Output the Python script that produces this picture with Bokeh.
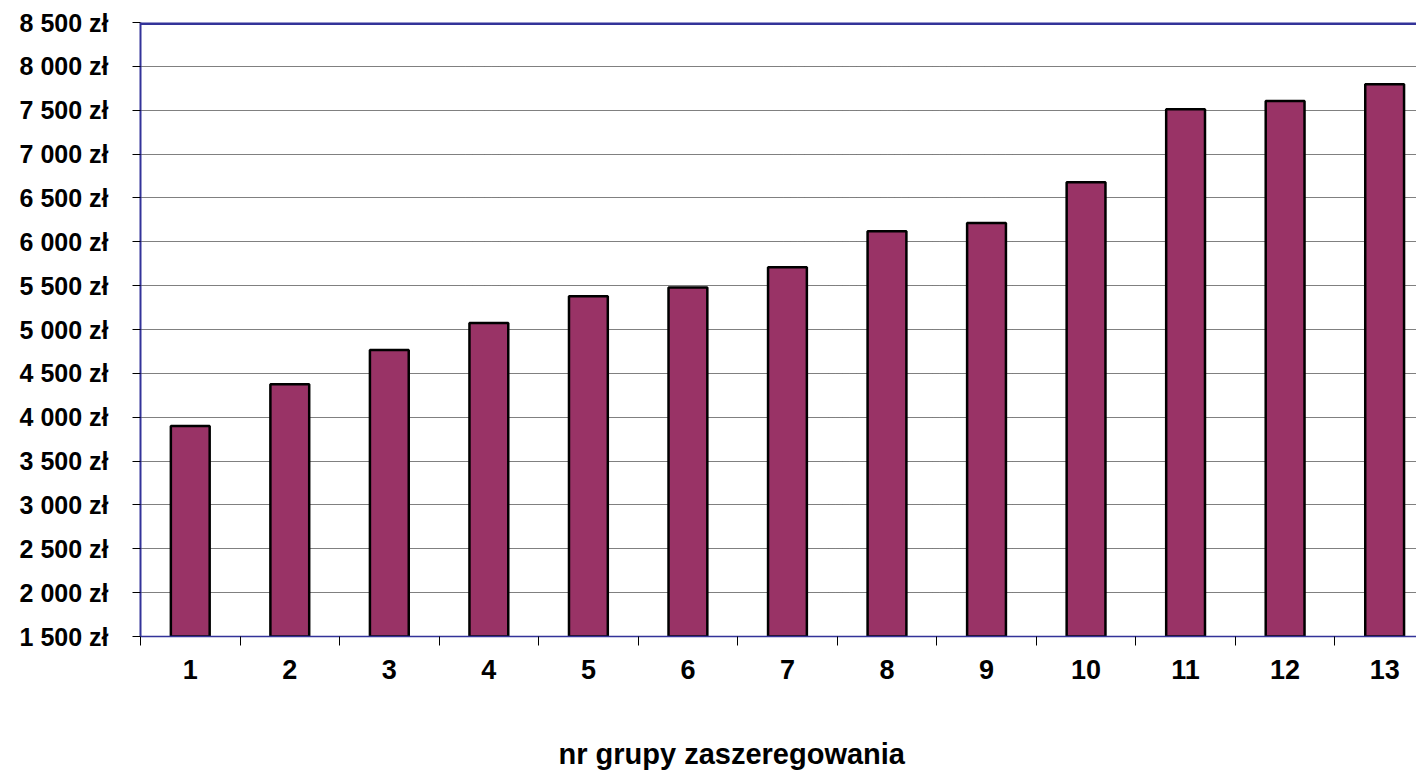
from bokeh.plotting import figure
from bokeh.models import FixedTicker, Range1d, Span, Title, ColumnDataSource
from bokeh.embed import file_html
from bokeh.resources import INLINE

groups = list(range(1, 14))
salaries = [3900, 4375, 4765, 5075, 5380, 5480, 5710, 6120, 6215, 6680, 7510, 7605, 7795]
y_ticks = [1500, 2000, 2500, 3000, 3500, 4000, 4500, 5000, 5500, 6000, 6500, 7000, 7500, 8000, 8500]
y_labels = {t: f"{t:,}".replace(",", " ") + " zł" for t in y_ticks}
x_labels = {g: str(g) for g in groups}
x_title = "nr grupy zaszeregowania"

FONT = "Liberation Sans"

p = figure(width=1416, height=773, output_backend="svg", toolbar_location=None,
           x_range=Range1d(0.5, 13.32), y_range=Range1d(1500, 8500),
           min_border_left=140, min_border_right=0, min_border_top=22, min_border_bottom=137)
p.outline_line_color = None
p.background_fill_color = "white"
p.border_fill_color = "white"

src = ColumnDataSource(dict(x=groups, top=salaries))
p.vbar(x="x", top="top", bottom=1500, width=0.39, source=src,
       fill_color="#993366", line_color="black", line_width=2.5)

# Y axis
p.yaxis.ticker = FixedTicker(ticks=y_ticks)
p.yaxis.major_label_overrides = y_labels
p.yaxis.major_label_text_font = FONT
p.yaxis.major_label_text_font_style = "bold"
p.yaxis.major_label_text_font_size = "25px"
p.yaxis.major_label_text_color = "black"
p.yaxis.major_label_standoff = 24
p.yaxis.major_tick_out = 8
p.yaxis.major_tick_in = 0
p.yaxis.major_tick_line_color = "black"
p.yaxis.minor_tick_line_color = None
p.yaxis.axis_line_color = "#333399"
p.yaxis.axis_line_width = 2

# X axis
p.xaxis.ticker = FixedTicker(ticks=groups, minor_ticks=[g - 0.5 for g in groups] + [13.5])
p.xaxis.major_label_overrides = x_labels
p.xaxis.major_label_text_font = FONT
p.xaxis.major_label_text_font_style = "bold"
p.xaxis.major_label_text_font_size = "27px"
p.xaxis.major_label_text_color = "black"
p.xaxis.major_label_standoff = 14
p.xaxis.major_tick_out = 0
p.xaxis.major_tick_in = 0
p.xaxis.minor_tick_out = 9
p.xaxis.minor_tick_in = 0
p.xaxis.minor_tick_line_color = "black"
p.xaxis.axis_line_color = "#333399"
p.xaxis.axis_line_width = 1.5

# Grid
p.xgrid.grid_line_color = None
p.ygrid.ticker = FixedTicker(ticks=y_ticks[1:-1])
p.ygrid.grid_line_color = "#000000"
p.ygrid.grid_line_dash = "1 1"
p.ygrid.grid_line_width = 1

p.add_layout(Span(location=8500, dimension="width", line_color="#333399", line_width=5))

t = Title(text=x_title, align="left", offset=418, text_font=FONT, text_font_style="bold",
          text_font_size="29px", text_color="black", standoff=0,
          padding=dict(left=0, right=0, top=54, bottom=0))
p.add_layout(t, "below")

open("out.html", "w").write(file_html(p, INLINE))
